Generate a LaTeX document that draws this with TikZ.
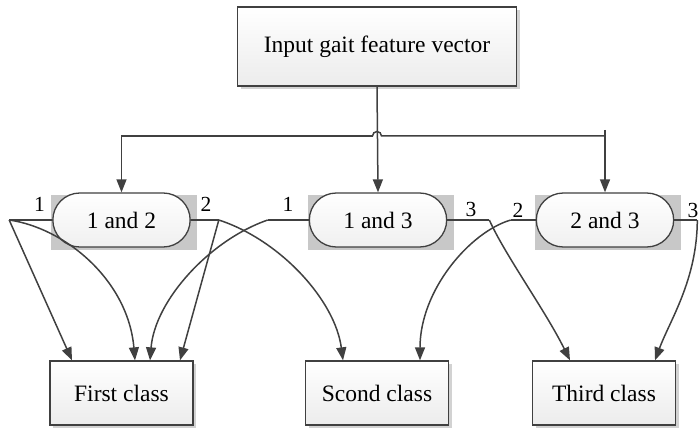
\documentclass[tikz,border=0pt]{standalone}
\usepackage{fontspec}
\setmainfont{Liberation Serif}
\usetikzlibrary{arrows.meta,shapes.misc,shadows}
\definecolor{linegray}{HTML}{404040}
\definecolor{backgray}{HTML}{C8C8C8}

\begin{document}
\begin{tikzpicture}[x=1pt,y=1pt]
\tikzset{box/.style={draw=linegray, line width=1.3pt, rectangle, top color=white, bottom color=gray!15, drop shadow={shadow xshift=3pt, shadow yshift=-3pt, fill=gray!35, opacity=1}, font=\fontsize{23.5}{27}\selectfont},
pill/.style={draw=linegray, line width=1.3pt, rounded rectangle, top color=white, bottom color=gray!12, minimum width=144pt, minimum height=54pt, font=\fontsize{23.5}{27}\selectfont},
port/.style={font=\fontsize{21.5}{25}\selectfont, inner sep=0pt},
wire/.style={draw=linegray, line width=1.5pt},
arr/.style={wire, -{Triangle[length=13pt,width=10pt]}}}
\useasboundingbox (0,0) rectangle (700,431);
\clip (0,0) rectangle (700,431);
\node[box, minimum width=279pt, minimum height=79pt] (inp) at (377,384.5) {Input gait feature vector};
\foreach \x in {121.5,378,605}
  \fill[backgray] (\x-70.5,181) rectangle (\x+75.5,236);
\node[pill] (n12) at (121.5,211) {1 and 2};
\node[pill] (n13) at (378,211) {1 and 3};
\node[pill] (n23) at (605,211) {2 and 3};
\node[box, minimum width=143pt, minimum height=64pt] (c1) at (121.5,38) {First class};
\node[box, minimum width=143pt, minimum height=64pt] (c2) at (377,38) {Scond class};
\node[box, minimum width=143pt, minimum height=64pt] (c3) at (604,38) {Third class};
\coordinate (p12l) at ([xshift=-43pt]n12.west);
\coordinate (p12r) at ([xshift=28pt]n12.east);
\coordinate (p13l) at ([xshift=-41pt]n13.west);
\coordinate (p13r) at ([xshift=42pt]n13.east);
\coordinate (p23l) at ([xshift=-25pt]n23.west);
\coordinate (p23r) at ([xshift=23pt]n23.east);
\node[port] (q12l) at (39.5,226.5) {1};
\node[port] (q12r) at (206,226.5) {2};
\node[port] (q13l) at (288,227) {1};
\node[port] (q13r) at (471,221.5) {3};
\node[port] (q23l) at (518,221) {2};
\node[port] (q23r) at (693,221) {3};
\coordinate (bl) at (n12.north |- 0,295);
\coordinate (br) at (n23.north |- 0,295);
\coordinate (hop) at (inp.south |- 0,295);
\draw[arr] (inp.south) -- (n13.north);
\draw[wire] ([xshift=-4.5pt]hop) arc[start angle=180, end angle=0, radius=4.5pt] -- (br);
\draw[arr] ([xshift=-4.5pt]hop) -- (bl) -- (n12.north);
\draw[arr] ([yshift=6pt]br) -- (n23.north);
\draw[wire] (n12.west) -- (p12l);
\draw[wire] (n12.east) -- (p12r);
\draw[wire] (n13.west) -- (p13l);
\draw[wire] (n13.east) -- (p13r);
\draw[wire] (n23.west) -- (p23l);
\draw[wire] (n23.east) -- (p23r);
\draw[arr] (p12l) -- (72,0 |- c1.north);
\draw[arr] (p12l) .. controls (65,203) and (128,151) .. (135,0 |- c1.north);
\draw[arr] (p12r) -- (180,0 |- c1.north);
\draw[arr] (p12r) .. controls (280,191) and (335,131) .. (343,0 |- c2.north);
\draw[arr] (p13l) .. controls (210,191) and (155,131) .. (150,0 |- c1.north);
\draw[arr] (p13r) .. controls (505,176) and (545,121) .. (570,0 |- c3.north);
\draw[arr] (p23l) .. controls (470,199) and (420,141) .. (420,0 |- c2.north);
\draw[arr] (p23r) .. controls (697,151) and (670,111) .. (655,0 |- c3.north);
\end{tikzpicture}
\end{document}
